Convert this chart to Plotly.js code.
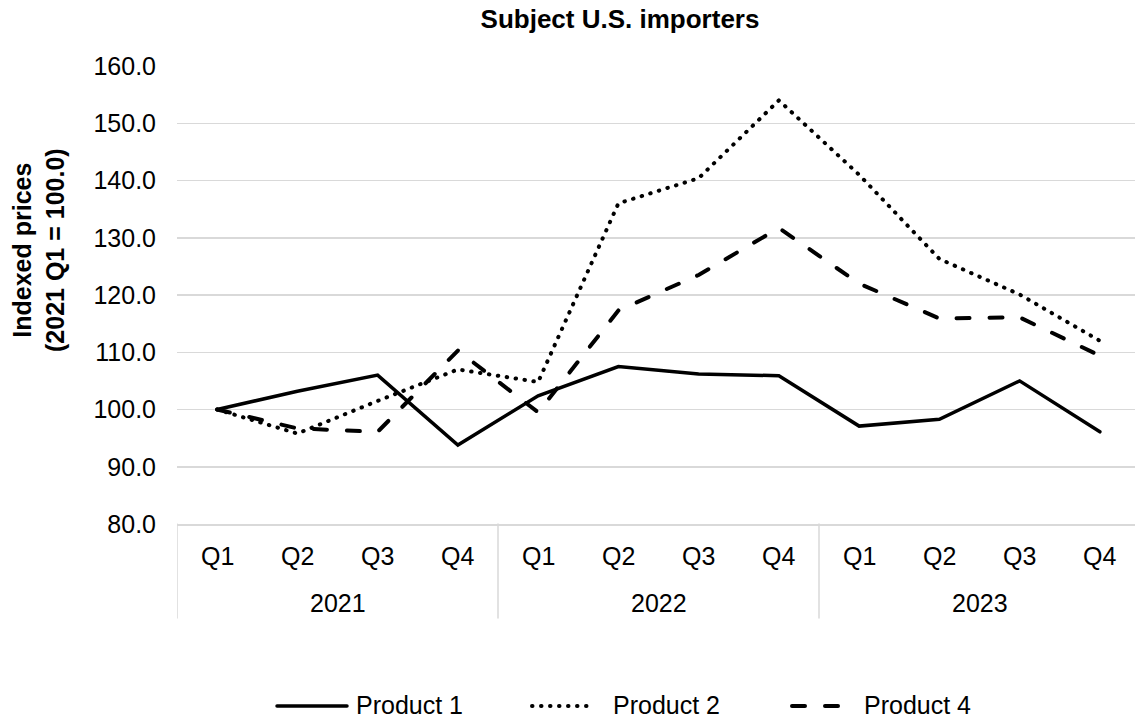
<!DOCTYPE html>
<html>
<head>
<meta charset="utf-8">
<script src="https://cdn.plot.ly/plotly-3.0.1.min.js"></script>
<style>
  html, body { margin: 0; padding: 0; background: #ffffff; overflow: hidden; }
  #chart { width: 1140px; height: 721px; }
  /* rounded ends give the dotted and dashed strokes their soft look */
  .scatterlayer .js-line, .shapelayer path { stroke-linecap: round; }
</style>
</head>
<body>
<div id="chart"></div>
<script>
// Quarterly indexed prices for subject U.S. importers (2021 Q1 = 100.0)
const years = ['2021', '2022', '2023'];
const quarters = ['Q1', 'Q2', 'Q3', 'Q4'];
const periods = years.flatMap(y => quarters.map(q => y + ' ' + q));

const seriesNames = ['Product 1', 'Product 2', 'Product 4'];
const product1 = [100.0, 103.2, 106.0, 93.8, 102.4, 107.5, 106.2, 105.9, 97.1, 98.3, 105.0, 96.1];
const product2 = [100.0, 95.8, 101.5, 107.0, 104.8, 136.0, 140.4, 154.0, 141.0, 126.3, 120.1, 112.0];
const product4 = [100.0, 96.7, 96.1, 110.3, 99.5, 117.3, 123.5, 131.7, 122.0, 115.9, 116.1, 109.4];

const yTickValues = [80, 90, 100, 110, 120, 130, 140, 150, 160];

const FONT = '"Liberation Sans", Arial, sans-serif';
const GRID = '#d9d9d9';

// Plot area in page pixels (used to place the outside-axis labels)
const PLOT_LEFT = 177, PLOT_RIGHT = 1140, PLOT_TOP = 66, PLOT_BOTTOM = 524;
const px2x = px => (px - PLOT_LEFT) / (PLOT_RIGHT - PLOT_LEFT);
const py2y = py => (PLOT_BOTTOM - py) / (PLOT_BOTTOM - PLOT_TOP);

const lineStyles = [
  { color: '#000000', width: 3.5, dash: 'solid' },
  { color: '#000000', width: 4, dash: '0.5px,8.5px' },
  { color: '#000000', width: 4, dash: '13px,20px' }
];
const seriesValues = [product1, product2, product4];

const traces = seriesValues.map((vals, i) => ({
  type: 'scatter',
  mode: 'lines',
  name: seriesNames[i],
  x: periods,
  y: vals,
  line: Object.assign({}, lineStyles[i]),
  showlegend: false,
  hoverinfo: 'skip'
}));

const annotations = [];
const shapes = [];

// Quarter labels under each point
periods.forEach((p, i) => {
  annotations.push({
    xref: 'x', yref: 'paper', x: p, y: py2y(556),
    xanchor: 'center', yanchor: 'middle', showarrow: false,
    text: quarters[i % quarters.length],
    font: { family: FONT, size: 25, color: '#000000' }
  });
});

// Year labels centred under each group of quarters, with dividers between groups
years.forEach((y, k) => {
  annotations.push({
    xref: 'x', yref: 'paper', x: k * quarters.length + 1.5, y: py2y(603),
    xanchor: 'center', yanchor: 'middle', showarrow: false,
    text: y,
    font: { family: FONT, size: 25, color: '#000000' }
  });
});
for (let k = 0; k <= years.length; k++) {
  const xb = k * quarters.length - 0.5;
  shapes.push({
    type: 'line', xref: 'x', yref: 'paper',
    x0: xb, x1: xb, y0: 0, y1: py2y(618),
    line: { color: GRID, width: 1.5 }
  });
}

// Y-axis title
annotations.push({
  xref: 'paper', yref: 'paper', x: px2x(38), y: py2y(250),
  xanchor: 'center', yanchor: 'middle', showarrow: false,
  textangle: -90,
  text: 'Indexed prices<br>(2021 Q1 = 100.0)',
  font: { family: FONT, size: 25, color: '#000000', weight: 'bold' }
});

// Legend along the bottom: a line sample followed by the series name
const legendSamples = [[277, 347], [532, 594], [792, 858]];
const legendTextLeft = [354, 611, 862];
const LEGEND_Y = 706;
seriesNames.forEach((name, i) => {
  shapes.push({
    type: 'line', xref: 'paper', yref: 'paper',
    x0: px2x(legendSamples[i][0]), x1: px2x(legendSamples[i][1]),
    y0: py2y(LEGEND_Y), y1: py2y(LEGEND_Y),
    line: Object.assign({}, lineStyles[i])
  });
  annotations.push({
    xref: 'paper', yref: 'paper', x: px2x(legendTextLeft[i]), y: py2y(LEGEND_Y - 1),
    xanchor: 'left', yanchor: 'middle', showarrow: false,
    text: name,
    font: { family: FONT, size: 25, color: '#000000' }
  });
});

const layout = {
  width: 1140,
  height: 721,
  margin: { l: PLOT_LEFT, r: 1140 - PLOT_RIGHT, t: PLOT_TOP, b: 721 - PLOT_BOTTOM, pad: 0 },
  paper_bgcolor: '#ffffff',
  plot_bgcolor: '#ffffff',
  showlegend: false,
  title: {
    text: 'Subject U.S. importers',
    font: { family: FONT, size: 26, color: '#000000', weight: 'bold' },
    xref: 'container', yref: 'container',
    x: 620 / 1140, xanchor: 'center',
    y: 1 - 19 / 721, yanchor: 'middle'
  },
  xaxis: {
    type: 'category',
    range: [-0.5, periods.length - 0.5],
    showticklabels: false,
    ticks: '',
    showgrid: false,
    zeroline: false,
    showline: true,
    linecolor: GRID,
    linewidth: 1.5,
    fixedrange: true
  },
  yaxis: {
    range: [80, 160],
    tickvals: yTickValues,
    tickformat: '.1f',
    ticks: '',
    ticklabelstandoff: 20,
    tickfont: { family: FONT, size: 25, color: '#000000' },
    showgrid: true,
    gridcolor: GRID,
    gridwidth: 1.5,
    zeroline: false,
    showline: false,
    fixedrange: true
  },
  annotations: annotations,
  shapes: shapes,
  font: { family: FONT, color: '#000000' }
};

Plotly.newPlot('chart', traces, layout, { staticPlot: true, displayModeBar: false });
</script>
</body>
</html>
